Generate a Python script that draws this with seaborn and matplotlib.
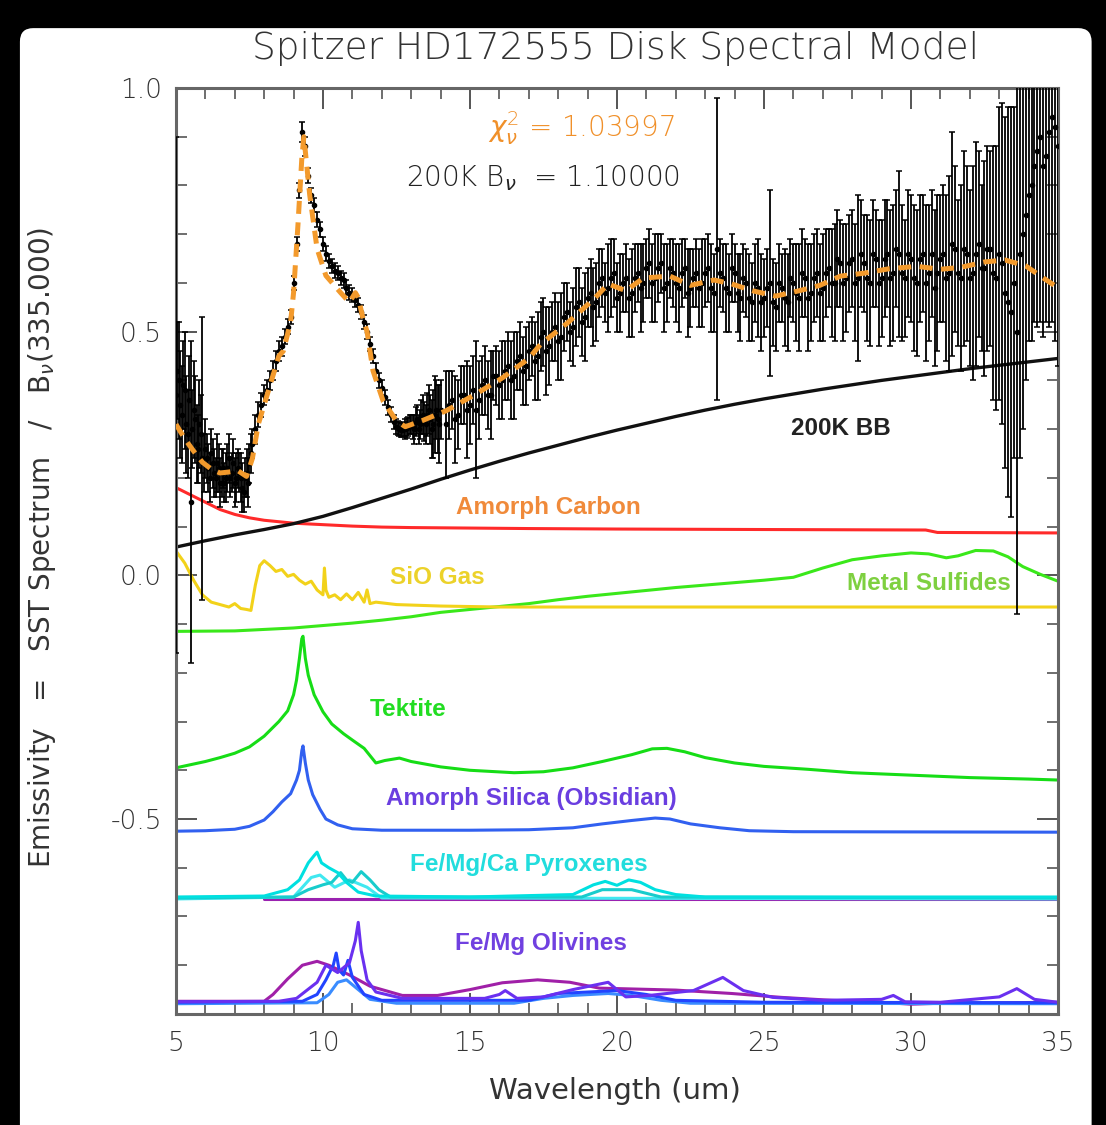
import matplotlib
matplotlib.use("Agg")
import matplotlib.pyplot as plt
from matplotlib.ticker import MultipleLocator
from matplotlib.patches import FancyBboxPatch
import seaborn as sns
import pandas as pd

sns.set_style("ticks")
plt.rcParams["font.family"] = ["DejaVu Sans"]
plt.rcParams["font.weight"] = 200
plt.rcParams["axes.unicode_minus"] = False
plt.rcParams["mathtext.fontset"] = "dejavusans"

# ---------------- observed IRS spectrum (wavelength, flux ratio, 1-sigma) ----------------
# short-low module
wl_short = [5.0, 5.1, 5.2, 5.3, 5.4, 5.5, 5.6, 5.7, 5.8, 5.9,
            6.0, 6.1, 6.2, 6.3, 6.4, 6.5, 6.6, 6.7, 6.8, 6.9,
            7.0, 7.1, 7.2, 7.3, 7.4, 7.5, 7.6, 7.7, 7.8, 7.9,
            8.0, 8.1, 8.2, 8.3, 8.4, 8.5, 8.6, 8.7, 8.8, 8.9,
            9.0, 9.1, 9.2, 9.3, 9.4, 9.5, 9.6, 9.7, 9.8, 9.9,
            10.0, 10.1, 10.2, 10.3, 10.4, 10.5, 10.6, 10.7, 10.8, 10.9,
            11.0, 11.1, 11.2, 11.3, 11.4, 11.5, 11.6, 11.7, 11.8, 11.9,
            12.0, 12.1, 12.2, 12.3, 12.4, 12.5, 12.6, 12.7, 12.8, 12.9,
            13.0, 13.1, 13.2, 13.3, 13.4, 13.5, 13.6, 13.7, 13.8, 13.9, 14.0]
flux_short = [0.37, 0.40, 0.33, 0.38, 0.29, 0.15, 0.34, 0.27, 0.31, 0.24,
              0.26, 0.22, 0.25, 0.21, 0.23, 0.19, 0.22, 0.20, 0.24, 0.21,
              0.19, 0.22, 0.20, 0.17, 0.21, 0.23, 0.27, 0.30, 0.33, 0.35,
              0.37, 0.38, 0.40, 0.42, 0.44, 0.46, 0.47, 0.49, 0.51, 0.53,
              0.60, 0.68, 0.79, 0.91, 0.88, 0.82, 0.78, 0.76, 0.73, 0.71,
              0.68, 0.66, 0.645, 0.635, 0.625, 0.62, 0.61, 0.605, 0.59, 0.58,
              0.575, 0.565, 0.555, 0.54, 0.52, 0.50, 0.475, 0.45, 0.42, 0.40,
              0.385, 0.365, 0.345, 0.33, 0.315, 0.305, 0.30, 0.298, 0.30, 0.305,
              0.31, 0.30, 0.32, 0.31, 0.33, 0.31, 0.34, 0.30, 0.33, 0.32, 0.34]
err_short = [0.53, 0.12, 0.10, 0.12, 0.09, 0.33, 0.10, 0.08, 0.09, 0.29,
             0.06, 0.05, 0.05, 0.05, 0.06, 0.05, 0.04, 0.05, 0.05, 0.04,
             0.05, 0.04, 0.05, 0.04, 0.05, 0.04, 0.03, 0.03, 0.025, 0.025,
             0.02, 0.02, 0.02, 0.02, 0.02, 0.02, 0.02, 0.015, 0.015, 0.015,
             0.015, 0.015, 0.015, 0.02, 0.02, 0.015, 0.015, 0.015, 0.015, 0.015,
             0.015, 0.015, 0.015, 0.015, 0.015, 0.015, 0.015, 0.015, 0.015, 0.015,
             0.015, 0.015, 0.015, 0.015, 0.015, 0.015, 0.015, 0.015, 0.015, 0.015,
             0.015, 0.015, 0.015, 0.015, 0.015, 0.015, 0.015, 0.015, 0.02, 0.02,
             0.02, 0.03, 0.03, 0.03, 0.04, 0.04, 0.05, 0.06, 0.08, 0.07, 0.06]

# second short-low order / nod position (noisier ends)
wl_short2 = [5.05, 5.15, 5.25, 5.35, 5.45, 5.55, 5.65, 5.75, 5.85, 5.95,
             6.05, 6.15, 6.25, 6.35, 6.45, 6.55, 6.65, 6.75, 6.85, 6.95,
             7.05, 7.15, 7.25, 7.35, 7.45, 7.55,
             12.55, 12.65, 12.75, 12.85, 12.95, 13.05, 13.15, 13.25, 13.35,
             13.45, 13.55, 13.65, 13.75, 13.85, 13.95]
flux_short2 = [0.42, 0.35, 0.39, 0.31, 0.36, 0.30, 0.32, 0.26, 0.29, 0.23,
               0.24, 0.20, 0.23, 0.20, 0.22, 0.21, 0.19, 0.22, 0.20, 0.23,
               0.20, 0.21, 0.18, 0.20, 0.19, 0.25,
               0.302, 0.298, 0.30, 0.302, 0.31, 0.305, 0.315, 0.30, 0.325,
               0.315, 0.33, 0.32, 0.31, 0.34, 0.31]
err_short2 = [0.10, 0.11, 0.09, 0.10, 0.09, 0.08, 0.09, 0.07, 0.08, 0.06,
              0.05, 0.05, 0.05, 0.04, 0.05, 0.05, 0.04, 0.05, 0.04, 0.05,
              0.05, 0.04, 0.05, 0.04, 0.05, 0.04,
              0.015, 0.015, 0.015, 0.02, 0.02, 0.025, 0.03, 0.03, 0.035,
              0.04, 0.045, 0.05, 0.07, 0.06, 0.08]

# long-low module
wl_long = [14.2, 14.4, 14.6, 14.8, 15.0, 15.2, 15.4, 15.6, 15.8, 16.0,
           16.2, 16.4, 16.6, 16.8, 17.0, 17.2, 17.4, 17.6, 17.8, 18.0,
           18.2, 18.4, 18.6, 18.8, 19.0, 19.2, 19.4, 19.6, 19.8, 20.0,
           20.2, 20.4, 20.6, 20.8, 21.0, 21.2, 21.4, 21.6, 21.8, 22.0,
           22.2, 22.4, 22.6, 22.8, 23.0, 23.2, 23.4, 23.6, 23.8, 24.0,
           24.2, 24.4, 24.6, 24.8, 25.0, 25.2, 25.4, 25.6, 25.8, 26.0,
           26.2, 26.4, 26.6, 26.8, 27.0, 27.2, 27.4, 27.6, 27.8, 28.0,
           28.2, 28.4, 28.6, 28.8, 29.0, 29.2, 29.4, 29.6, 29.8, 30.0,
           30.2, 30.4, 30.6, 30.8, 31.0, 31.2, 31.4, 31.6, 31.8, 32.0,
           32.2, 32.4, 32.6, 32.8, 33.0, 33.2, 33.4, 33.6, 33.8, 34.0,
           34.2, 34.4, 34.6, 34.8, 35.0]
flux_long = [0.31, 0.36, 0.33, 0.37, 0.35, 0.34, 0.39, 0.37, 0.41, 0.39,
             0.42, 0.40, 0.44, 0.42, 0.46, 0.44, 0.49, 0.46, 0.50, 0.48,
             0.53, 0.50, 0.55, 0.52, 0.57, 0.55, 0.60, 0.58, 0.61, 0.57,
             0.60, 0.57, 0.61, 0.59, 0.63, 0.60, 0.63, 0.59, 0.63, 0.60,
             0.62, 0.58, 0.61, 0.59, 0.62, 0.59, 0.67, 0.61, 0.58, 0.62,
             0.57, 0.60, 0.56, 0.59, 0.57, 0.60, 0.55, 0.59, 0.56, 0.60,
             0.57, 0.61, 0.58, 0.62, 0.59, 0.63, 0.60, 0.64, 0.61, 0.65,
             0.61, 0.64, 0.60, 0.65, 0.61, 0.66, 0.62, 0.66, 0.61, 0.65,
             0.60, 0.66, 0.62, 0.59, 0.65, 0.61, 0.68, 0.62, 0.67, 0.61,
             0.66, 0.63, 0.67, 0.62, 0.66, 0.58, 0.54, 0.50, 0.70, 0.78,
             0.84, 0.90, 0.86, 0.94, 0.88]
err_long = [0.11, 0.06, 0.07, 0.06, 0.08, 0.14, 0.06, 0.07, 0.05, 0.07,
            0.06, 0.08, 0.06, 0.07, 0.06, 0.08, 0.07, 0.09, 0.06, 0.08,
            0.07, 0.06, 0.08, 0.07, 0.06, 0.08, 0.07, 0.06, 0.08, 0.07,
            0.06, 0.08, 0.07, 0.09, 0.06, 0.08, 0.07, 0.09, 0.06, 0.08,
            0.07, 0.09, 0.06, 0.08, 0.07, 0.09, 0.31, 0.07, 0.08, 0.06,
            0.09, 0.07, 0.08, 0.10, 0.08, 0.19, 0.09, 0.07, 0.10, 0.08,
            0.11, 0.08, 0.10, 0.09, 0.11, 0.08, 0.12, 0.09, 0.11, 0.10,
            0.17, 0.10, 0.13, 0.10, 0.12, 0.11, 0.14, 0.17, 0.12, 0.13,
            0.15, 0.12, 0.14, 0.16, 0.13, 0.17, 0.23, 0.15, 0.20, 0.18,
            0.23, 0.17, 0.21, 0.26, 0.30, 0.36, 0.42, 0.58, 0.40, 0.30,
            0.32, 0.38, 0.34, 0.42, 0.45]

wl_long2 = [14.3, 14.5, 14.7, 14.9, 15.1, 15.3, 15.5, 15.7, 15.9, 16.1,
            16.3, 16.5, 16.7, 16.9, 17.1, 17.3, 17.5, 17.7, 17.9, 18.1,
            18.3, 18.5, 18.7, 18.9, 19.1, 19.3, 19.5, 19.7, 19.9, 20.1,
            20.3, 20.5, 20.7, 20.9, 21.1, 21.3, 21.5, 21.7, 21.9, 22.1,
            22.3, 22.5, 22.7, 22.9, 23.1, 23.3, 23.5, 23.7, 23.9, 24.1,
            24.3, 24.5, 24.7, 24.9, 25.1, 25.3, 25.5, 25.7, 25.9, 26.1,
            26.3, 26.5, 26.7, 26.9, 27.1, 27.3, 27.5, 27.7, 27.9, 28.1,
            28.3, 28.5, 28.7, 28.9, 29.1, 29.3, 29.5, 29.7, 29.9, 30.1,
            30.3, 30.5, 30.7, 30.9, 31.1, 31.3, 31.5, 31.7, 31.9, 32.1,
            32.3, 32.5, 32.7, 32.9, 33.1, 33.3, 33.5, 33.7, 33.9, 34.1,
            34.3, 34.5, 34.7, 34.9]
flux_long2 = [0.35, 0.32, 0.37, 0.34, 0.38, 0.36, 0.40, 0.37, 0.41, 0.40,
              0.43, 0.41, 0.45, 0.43, 0.47, 0.45, 0.50, 0.47, 0.51, 0.49,
              0.54, 0.51, 0.56, 0.53, 0.58, 0.56, 0.61, 0.59, 0.62, 0.58,
              0.61, 0.58, 0.62, 0.60, 0.64, 0.61, 0.64, 0.60, 0.62, 0.59,
              0.63, 0.59, 0.62, 0.60, 0.63, 0.58, 0.62, 0.59, 0.63, 0.58,
              0.61, 0.57, 0.60, 0.56, 0.59, 0.56, 0.60, 0.57, 0.61, 0.58,
              0.62, 0.57, 0.61, 0.58, 0.62, 0.60, 0.65, 0.60, 0.64, 0.60,
              0.66, 0.61, 0.66, 0.60, 0.65, 0.61, 0.67, 0.62, 0.66, 0.61,
              0.65, 0.60, 0.66, 0.62, 0.66, 0.62, 0.67, 0.61, 0.66, 0.62,
              0.68, 0.63, 0.67, 0.61, 0.64, 0.56, 0.60, 0.66, 0.74, 0.80,
              0.87, 0.84, 0.91, 0.92]
err_long2 = [0.07, 0.09, 0.06, 0.10, 0.07, 0.08, 0.07, 0.09, 0.06, 0.08,
             0.07, 0.09, 0.07, 0.08, 0.06, 0.09, 0.07, 0.08, 0.07, 0.09,
             0.06, 0.08, 0.07, 0.09, 0.07, 0.08, 0.06, 0.09, 0.07, 0.08,
             0.07, 0.09, 0.06, 0.08, 0.07, 0.09, 0.06, 0.08, 0.07, 0.09,
             0.06, 0.08, 0.07, 0.09, 0.07, 0.08, 0.07, 0.09, 0.07, 0.08,
             0.07, 0.09, 0.08, 0.10, 0.08, 0.09, 0.08, 0.10, 0.08, 0.10,
             0.09, 0.11, 0.09, 0.10, 0.09, 0.11, 0.10, 0.12, 0.10, 0.12,
             0.11, 0.13, 0.11, 0.13, 0.12, 0.14, 0.12, 0.14, 0.13, 0.15,
             0.13, 0.16, 0.13, 0.16, 0.14, 0.20, 0.17, 0.19, 0.18, 0.22,
             0.19, 0.22, 0.20, 0.27, 0.33, 0.40, 0.36, 0.42, 0.34, 0.32,
             0.36, 0.35, 0.40, 0.44]

# ---------------- best-fit model (orange dashed) ----------------
model_wl = [5.0, 5.3, 5.6, 5.9, 6.2, 6.5, 6.8, 7.1, 7.4, 7.6, 7.8, 8.0, 8.2, 8.5,
            8.65, 8.9, 9.0, 9.15, 9.28, 9.35, 9.45, 9.55, 9.8, 10.1, 10.6, 10.9,
            11.1, 11.2, 11.35, 11.5, 11.7, 12.05, 12.5, 12.8, 13.4, 14.2, 15.2,
            16.1, 17.0, 17.4, 18.3, 19.25, 19.7, 20.3, 20.9, 21.8, 22.5, 23.3,
            23.9, 24.6, 25.4, 26.2, 26.9, 27.6, 28.4, 29.25, 30.2, 31.0, 31.7,
            32.5, 33.2, 33.9, 34.6, 35.0]
model_flux = [0.31, 0.28, 0.255, 0.232, 0.218, 0.21, 0.212, 0.215, 0.203, 0.24,
              0.31, 0.35, 0.39, 0.45, 0.46, 0.52, 0.58, 0.72, 0.855, 0.90, 0.84,
              0.78, 0.67, 0.615, 0.58, 0.56, 0.58, 0.57, 0.53, 0.50, 0.42, 0.357,
              0.317, 0.305, 0.318, 0.338, 0.372, 0.405, 0.445, 0.474, 0.517,
              0.569, 0.598, 0.584, 0.61, 0.614, 0.595, 0.606, 0.598, 0.584,
              0.573, 0.584, 0.595, 0.614, 0.62, 0.629, 0.634, 0.628, 0.632,
              0.643, 0.647, 0.635, 0.606, 0.59]

# ---------------- model components ----------------
bb_wl = [5, 6, 7, 8, 9, 10, 11, 12, 13, 14, 15, 16, 17, 18, 19, 20, 21, 22, 23,
         24, 25, 26, 27, 28, 29, 30, 31, 32, 33, 34, 35]
bb_flux = [0.058, 0.071, 0.083, 0.094, 0.106, 0.121, 0.139, 0.158, 0.177, 0.197,
           0.216, 0.234, 0.251, 0.267, 0.283, 0.298, 0.312, 0.326, 0.339, 0.351,
           0.362, 0.372, 0.382, 0.391, 0.400, 0.408, 0.416, 0.424, 0.431, 0.438,
           0.445]

carbon_wl = [5.0, 5.5, 6.0, 6.5, 7.0, 7.5, 8.0, 8.5, 9.0, 10.0, 11.0, 12.0, 13.0,
             15.0, 17.0, 20.0, 25.0, 30.5, 30.9, 35.0]
carbon_flux = [0.18, 0.165, 0.15, 0.135, 0.125, 0.118, 0.113, 0.11, 0.107, 0.104,
               0.101, 0.099, 0.098, 0.097, 0.096, 0.095, 0.094, 0.093, 0.088, 0.087]

sio_wl = [5.0, 5.3, 5.6, 5.9, 6.2, 6.5, 6.8, 7.0, 7.2, 7.4, 7.55, 7.7, 7.85, 8.0,
          8.2, 8.4, 8.6, 8.8, 9.0, 9.2, 9.4, 9.6, 9.8, 10.0, 10.05, 10.1, 10.2,
          10.4, 10.6, 10.8, 11.0, 11.2, 11.4, 11.5, 11.6, 11.8, 12.5, 14.0, 16.0,
          20.0, 35.0]
sio_flux = [0.05, 0.025, -0.01, -0.04, -0.055, -0.06, -0.065, -0.058, -0.068,
            -0.07, -0.072, -0.02, 0.02, 0.03, 0.02, 0.008, 0.012, -0.002, 0.002,
            -0.01, -0.018, -0.012, -0.03, -0.04, 0.015, -0.03, -0.045, -0.04,
            -0.05, -0.038, -0.05, -0.035, -0.055, -0.03, -0.058, -0.055, -0.06,
            -0.063, -0.065, -0.065, -0.065]

sulf_wl = [5, 7, 9, 10, 11, 12, 13, 14, 15, 16, 17, 18, 19, 20, 21, 22, 23, 24,
           25, 26, 27, 28, 29, 30, 30.6, 31.2, 31.6, 32.2, 32.8, 33.3, 33.8,
           34.4, 35.0]
sulf_flux = [-0.115, -0.114, -0.108, -0.103, -0.098, -0.092, -0.085, -0.076,
             -0.07, -0.064, -0.058, -0.05, -0.043, -0.037, -0.031, -0.025, -0.02,
             -0.015, -0.01, -0.004, 0.015, 0.032, 0.04, 0.046, 0.044, 0.036,
             0.04, 0.051, 0.05, 0.038, 0.018, 0.002, -0.012]

tek_wl = [5.0, 6.0, 6.5, 7.0, 7.5, 8.0, 8.5, 8.8, 9.0, 9.1, 9.2, 9.28, 9.32, 9.4,
          9.5, 9.7, 10.0, 10.3, 10.7, 11.0, 11.4, 11.8, 12.1, 12.6, 13.0, 14.0,
          15.0, 16.5, 17.5, 18.5, 19.5, 20.5, 21.2, 21.7, 22.3, 23.0, 24.0, 25.0,
          26.5, 28.0, 30.0, 32.0, 34.0, 35.0]
tek_flux = [-0.395, -0.382, -0.374, -0.365, -0.352, -0.33, -0.30, -0.278, -0.245,
            -0.215, -0.17, -0.13, -0.125, -0.17, -0.205, -0.245, -0.28, -0.305,
            -0.325, -0.338, -0.355, -0.385, -0.38, -0.375, -0.382, -0.393, -0.40,
            -0.405, -0.403, -0.395, -0.382, -0.368, -0.356, -0.355, -0.362,
            -0.374, -0.385, -0.392, -0.398, -0.405, -0.41, -0.415, -0.418, -0.42]

silica_wl = [5.0, 6.0, 7.0, 7.5, 8.0, 8.3, 8.6, 8.9, 9.1, 9.2, 9.28, 9.32, 9.4,
             9.5, 9.65, 9.9, 10.1, 10.5, 11.0, 12.0, 15.0, 17.0, 18.5, 19.5, 20.5,
             21.3, 21.8, 22.5, 23.5, 24.5, 26.0, 35.0]
silica_flux = [-0.525, -0.524, -0.521, -0.515, -0.502, -0.485, -0.465, -0.448,
               -0.42, -0.40, -0.36, -0.35, -0.385, -0.42, -0.45, -0.48, -0.50,
               -0.512, -0.52, -0.523, -0.523, -0.522, -0.518, -0.51, -0.503,
               -0.498, -0.50, -0.51, -0.518, -0.524, -0.526, -0.527]

pyr_base_wl = [8.0, 35.0]
pyr_base_flux = [-0.664, -0.664]
pyr_a_wl = [5.0, 8.0, 8.8, 9.2, 9.5, 9.7, 9.8, 9.95, 10.2, 10.5, 10.8, 11.2, 11.8,
            15.0, 18.5, 19.2, 19.6, 20.0, 20.4, 20.8, 21.3, 22.0, 23.0, 35.0]
pyr_a_flux = [-0.66, -0.658, -0.645, -0.625, -0.59, -0.575, -0.568, -0.59, -0.60,
              -0.61, -0.63, -0.65, -0.658, -0.66, -0.655, -0.635, -0.628, -0.636,
              -0.625, -0.63, -0.645, -0.655, -0.66, -0.66]
pyr_b_wl = [5.0, 9.0, 9.5, 10.0, 10.3, 10.6, 10.8, 11.0, 11.3, 11.6, 11.9, 12.3,
            18.8, 19.5, 20.5, 21.5, 35.0]
pyr_b_flux = [-0.662, -0.66, -0.645, -0.635, -0.63, -0.61, -0.625, -0.63, -0.608,
              -0.625, -0.645, -0.66, -0.66, -0.645, -0.645, -0.66, -0.662]
pyr_c_wl = [5.0, 9.0, 9.6, 9.9, 10.4, 10.9, 11.5, 12.0, 35.0]
pyr_c_flux = [-0.664, -0.66, -0.62, -0.615, -0.64, -0.625, -0.64, -0.662, -0.664]

oli_m_wl = [5.0, 8.0, 8.3, 8.8, 9.3, 9.8, 10.2, 10.9, 11.6, 12.7, 13.9, 15.0, 16.1,
            17.3, 18.4, 19.4, 22.0, 23.9, 25.6, 27.3, 29.0, 30.0, 31.0, 35.0]
oli_m_flux = [-0.874, -0.874, -0.86, -0.828, -0.80, -0.792, -0.80, -0.82, -0.843,
              -0.862, -0.862, -0.85, -0.836, -0.83, -0.835, -0.847, -0.851,
              -0.858, -0.866, -0.872, -0.876, -0.88, -0.878, -0.876]
oli_v_wl = [5.0, 8.5, 9.1, 9.8, 10.1, 10.5, 10.9, 11.1, 11.2, 11.3, 11.5, 11.8,
            12.7, 15.5, 16.0, 16.2, 16.6, 17.5, 18.5, 19.7, 20.3, 21.1, 22.6,
            23.6, 24.3, 25.3, 27.0, 29.0, 29.4, 29.8, 31.0, 33.0, 33.6, 34.2, 35.0]
oli_v_flux = [-0.875, -0.874, -0.868, -0.835, -0.80, -0.815, -0.795, -0.75,
              -0.712, -0.77, -0.83, -0.855, -0.868, -0.868, -0.86, -0.852, -0.868,
              -0.865, -0.85, -0.835, -0.865, -0.862, -0.852, -0.825, -0.852,
              -0.866, -0.872, -0.87, -0.862, -0.875, -0.876, -0.865, -0.848,
              -0.87, -0.876]
oli_b_wl = [5.0, 9.3, 9.8, 10.1, 10.35, 10.45, 10.55, 10.7, 10.85, 11.0, 11.4,
            12.0, 17.0, 18.0, 19.0, 20.0, 21.0, 22.0, 25.0, 35.0]
oli_b_flux = [-0.876, -0.874, -0.86, -0.83, -0.80, -0.775, -0.81, -0.82, -0.79,
              -0.825, -0.86, -0.872, -0.872, -0.858, -0.855, -0.852, -0.86,
              -0.872, -0.876, -0.877]
oli_l_wl = [5.0, 9.8, 10.2, 10.5, 10.8, 11.1, 11.6, 12.5, 16.5, 17.5, 18.5, 19.7,
            20.5, 21.5, 22.5, 35.0]
oli_l_flux = [-0.879, -0.877, -0.86, -0.835, -0.83, -0.845, -0.87, -0.878, -0.878,
              -0.868, -0.862, -0.858, -0.862, -0.872, -0.878, -0.879]

# ---------------- figure ----------------
fig = plt.figure(figsize=(11.06, 11.25), dpi=100, facecolor="black")
fig.patches.append(FancyBboxPatch((0.018, -0.05), 0.969, 1.025,
                                  boxstyle="round,pad=0,rounding_size=0.012",
                                  transform=fig.transFigure, facecolor="white",
                                  edgecolor="none", zorder=-10))
ax = fig.add_axes([0.1591, 0.0987, 0.7975, 0.8231])
ax.set_facecolor("white")


def line(wl, fl, color, lw=2.2, z=2, **kw):
    df = pd.DataFrame({"wl": wl, "f": fl})
    sns.lineplot(data=df, x="wl", y="f", ax=ax, color=color, lw=lw,
                 estimator=None, sort=False, zorder=z, **kw)


# olivines
line(oli_m_wl, oli_m_flux, "#a020a8")
line(oli_l_wl, oli_l_flux, "#3a8cff")
line(oli_b_wl, oli_b_flux, "#2244ff")
line(oli_v_wl, oli_v_flux, "#6a30f0")
# pyroxenes
line(pyr_base_wl, pyr_base_flux, "#9a22b0")
line(pyr_c_wl, pyr_c_flux, "#40e8f0")
line(pyr_b_wl, pyr_b_flux, "#18cccc")
line(pyr_a_wl, pyr_a_flux, "#00e0e0")
# amorphous silica, tektite, sulfides, SiO, carbon, blackbody
line(silica_wl, silica_flux, "#3160f0")
line(tek_wl, tek_flux, "#16dd16")
line(sulf_wl, sulf_flux, "#3ae81a")
line(sio_wl, sio_flux, "#f2d21a")
line(carbon_wl, carbon_flux, "#ff2a2a")
line(bb_wl, bb_flux, "#111111", lw=2.4)

# observed spectrum with error bars
obs_wl = wl_short + wl_short2 + wl_long + wl_long2
obs_flux = flux_short + flux_short2 + flux_long + flux_long2
obs_err = err_short + err_short2 + err_long + err_long2
ax.errorbar(obs_wl, obs_flux, yerr=obs_err,
            fmt="o", ms=3.0, color="black", ecolor="black", elinewidth=1.3,
            capsize=2.4, capthick=1.1, zorder=4)

# best-fit model
line(model_wl, model_flux, "#f39a2c", lw=3.6, z=5, linestyle=(0, (2.6, 1.7)))

ax.set_xlim(5, 35)
ax.set_ylim(-0.9, 1.0)
ax.xaxis.set_major_locator(MultipleLocator(5))
ax.xaxis.set_minor_locator(MultipleLocator(1))
ax.yaxis.set_major_locator(MultipleLocator(0.5))
ax.yaxis.set_minor_locator(MultipleLocator(0.1))
ax.set_yticks([1.0, 0.5, 0.0, -0.5])
ax.set_yticklabels(["1.0", "0.5", "0.0", "-0.5"])
ax.set_xticks([5, 10, 15, 20, 25, 30, 35])
ax.set_xticklabels(["5", "10", "15", "20", "25", "30", "35"])

gray = "#333333"
ax.tick_params(which="major", direction="in", length=15, width=1.4, top=True,
               right=True, color="#555555", labelcolor=gray, labelsize=19)
ax.tick_params(which="minor", direction="in", length=8, width=1.2, top=True,
               right=True, color="#555555")
ax.tick_params(axis="x", which="major", pad=12)
ax.tick_params(axis="y", which="major", pad=10)
for s in ax.spines.values():
    s.set_color("#666666")
    s.set_linewidth(2.2)
    s.set_visible(True)

ax.set_xlabel("Wavelength (um)", fontsize=21, color=gray)
ax.xaxis.set_label_coords(0.498, -0.068)
ax.set_ylabel(r"Emissivity   =   SST Spectrum   /   B$_\nu$(335.000)",
              fontsize=20, color=gray)
ax.yaxis.set_label_coords(-0.134, 0.504)

fig.text(0.557, 0.957, "Spitzer HD172555 Disk Spectral Model", ha="center",
         va="center", fontsize=27, color=gray)

ax.text(21.97, 0.918, r"$\chi^2_\nu$ = 1.03997", ha="right", va="center",
        fontsize=20, color="#f0902a")
ax.text(22.14, 0.816, r"200K B$_\nu$  = 1.10000", ha="right", va="center",
        fontsize=20, color="#222222")

lab = dict(ha="center", va="center", fontsize=17.5, fontweight="bold",
           family=["Liberation Sans", "DejaVu Sans"])
ax.text(27.6, 0.302, "200K BB", color="#222222", **lab)
ax.text(17.65, 0.14, "Amorph Carbon", color="#f08a3a", **lab)
ax.text(13.9, -0.005, "SiO Gas", color="#ecd22a", **lab)
ax.text(30.6, -0.016, "Metal Sulfides", color="#7ed040", **lab)
ax.text(12.9, -0.276, "Tektite", color="#22dd22", **lab)
ax.text(17.1, -0.458, "Amorph Silica (Obsidian)", color="#6a3ee0", **lab)
ax.text(17.0, -0.594, "Fe/Mg/Ca Pyroxenes", color="#22dddd", **lab)
ax.text(17.4, -0.756, "Fe/Mg Olivines", color="#7040e0", **lab)

fig.savefig("out.png", dpi=100, facecolor=fig.get_facecolor())
